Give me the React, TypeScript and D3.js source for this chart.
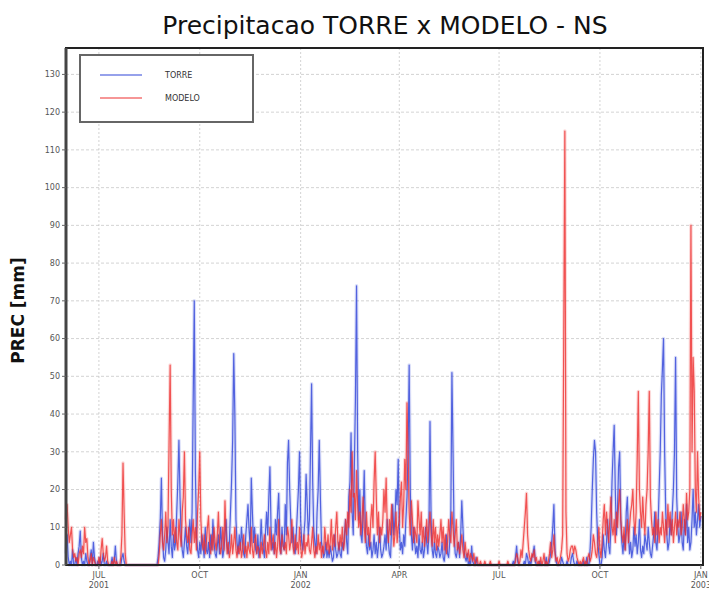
import React from 'react';
import * as d3 from 'd3';

// daily precipitation (mm), starting 2001-06-01
const startDate = new Date(2001, 5, 1);
const endDate = new Date(2003, 0, 3);

const torre = [
  3, 8, 2, 0, 1, 0, 4, 0, 0, 2, 0, 3, 5, 9, 2, 0, 1, 0, 3, 1,
  0, 0, 2, 4, 0, 6, 2, 0, 0, 1, 0, 2, 0, 1, 3, 0, 0, 1, 0, 0,
  0, 0, 2, 0, 1, 5, 1, 0, 0, 0, 0, 2, 3, 1, 0, 0, 0, 0, 0, 0,
  0, 0, 0, 0, 0, 0, 0, 0, 0, 0, 0, 0, 0, 0, 0, 0, 0, 0, 0, 0,
  0, 0, 0, 0, 2, 6, 12, 23, 8, 2, 1, 4, 10, 6, 3, 12, 5, 2, 8, 4,
  6, 14, 22, 33, 18, 8, 4, 2, 6, 10, 5, 3, 8, 12, 6, 14, 43, 70, 25, 8,
  4, 2, 6, 3, 8, 5, 2, 10, 4, 3, 6, 2, 8, 4, 12, 6, 3, 2, 5, 8,
  3, 10, 6, 2, 4, 8, 12, 5, 3, 6, 14, 22, 33, 56, 40, 12, 6, 3, 8, 4,
  10, 6, 3, 2, 8, 12, 16, 9, 5, 23, 14, 6, 10, 4, 3, 8, 2, 5, 12, 6,
  4, 2, 9, 14, 8, 18, 26, 10, 4, 6, 3, 12, 8, 14, 19, 7, 3, 10, 5, 4,
  16, 8, 27, 33, 20, 12, 6, 10, 4, 3, 8, 14, 20, 30, 12, 6, 4, 8, 12, 24,
  16, 8, 12, 30, 48, 22, 9, 6, 3, 14, 20, 33, 18, 6, 4, 2, 3, 6, 2, 4,
  2, 5, 3, 1, 2, 8, 4, 2, 3, 6, 3, 2, 6, 4, 8, 12, 6, 3, 18, 22,
  35, 14, 8, 26, 44, 74, 30, 12, 20, 8, 6, 14, 25, 10, 5, 3, 8, 4, 6, 2,
  4, 8, 3, 6, 2, 5, 10, 4, 2, 3, 5, 8, 4, 12, 6, 3, 2, 10, 16, 8,
  12, 20, 16, 28, 10, 4, 6, 3, 8, 5, 12, 18, 30, 53, 20, 8, 4, 10, 6, 3,
  5, 2, 8, 4, 3, 6, 2, 4, 10, 6, 3, 8, 38, 12, 4, 2, 6, 3, 2, 5,
  4, 2, 3, 6, 2, 1, 4, 8, 3, 2, 6, 14, 51, 30, 8, 3, 2, 4, 6, 2,
  8, 17, 10, 4, 2, 1, 3, 0, 1, 0, 5, 1, 0, 0, 2, 0, 0, 0, 0, 0,
  0, 0, 0, 0, 0, 0, 0, 0, 0, 0, 0, 0, 0, 0, 0, 0, 0, 0, 0, 0,
  0, 0, 0, 0, 0, 0, 0, 0, 1, 0, 2, 5, 1, 0, 0, 0, 0, 0, 1, 0,
  3, 2, 0, 1, 0, 2, 3, 5, 1, 0, 0, 0, 1, 0, 0, 0, 0, 0, 2, 0,
  0, 1, 3, 6, 10, 16, 4, 1, 0, 0, 0, 0, 2, 1, 0, 0, 0, 1, 0, 0,
  0, 2, 3, 1, 0, 0, 1, 0, 0, 0, 0, 0, 1, 0, 0, 2, 0, 0, 4, 10,
  20, 28, 33, 30, 14, 6, 3, 0, 0, 2, 8, 4, 2, 6, 12, 5, 3, 10, 22, 30,
  37, 20, 8, 14, 26, 30, 12, 6, 3, 8, 4, 14, 18, 8, 3, 6, 2, 4, 10, 5,
  8, 3, 6, 12, 4, 2, 5, 3, 8, 6, 4, 10, 6, 3, 2, 5, 8, 14, 6, 4,
  10, 20, 30, 45, 52, 60, 30, 14, 8, 4, 6, 12, 8, 14, 20, 30, 55, 18, 10, 6,
  8, 14, 6, 4, 12, 8, 16, 6, 10, 4, 6, 12, 20, 10, 14, 8, 12, 16, 10, 13,
];

const modelo = [
  12, 16, 10, 6, 8, 10, 4, 2, 3, 1, 2, 0, 3, 4, 2, 5, 3, 10, 6, 7,
  2, 0, 1, 3, 0, 2, 1, 0, 0, 0, 2, 0, 4, 7, 3, 1, 2, 5, 1, 0,
  0, 0, 1, 0, 2, 0, 1, 0, 0, 0, 2, 8, 27, 14, 3, 0, 0, 0, 0, 0,
  0, 0, 0, 0, 0, 0, 0, 0, 0, 0, 0, 0, 0, 0, 0, 0, 0, 0, 0, 0,
  0, 0, 0, 0, 0, 3, 8, 12, 6, 4, 8, 14, 6, 10, 32, 53, 20, 8, 12, 6,
  10, 6, 4, 12, 8, 5, 14, 18, 30, 12, 8, 6, 10, 4, 3, 8, 12, 6, 10, 4,
  14, 20, 30, 12, 6, 4, 8, 3, 6, 10, 13, 5, 3, 8, 4, 10, 6, 4, 8, 14,
  6, 3, 5, 10, 4, 17, 8, 3, 6, 2, 4, 8, 3, 6, 10, 4, 2, 5, 3, 6,
  2, 4, 8, 3, 5, 2, 6, 4, 3, 10, 4, 2, 6, 8, 3, 5, 4, 2, 6, 3,
  5, 8, 4, 2, 6, 3, 10, 4, 6, 8, 3, 6, 2, 5, 12, 4, 3, 8, 5, 4,
  6, 3, 10, 8, 4, 6, 12, 5, 3, 8, 4, 6, 3, 10, 5, 2, 4, 8, 3, 6,
  5, 8, 4, 3, 6, 10, 4, 2, 5, 3, 8, 4, 6, 2, 5, 3, 10, 6, 4, 8,
  3, 6, 12, 4, 8, 5, 10, 14, 6, 4, 8, 5, 10, 4, 6, 12, 8, 14, 10, 20,
  14, 30, 18, 19, 12, 25, 16, 10, 14, 8, 12, 18, 10, 6, 14, 8, 10, 5, 12, 16,
  10, 22, 30, 18, 8, 14, 6, 10, 8, 12, 20, 14, 23, 10, 6, 12, 8, 16, 10, 5,
  8, 14, 6, 10, 12, 18, 22, 10, 16, 28, 20, 43, 30, 14, 8, 17, 12, 6, 10, 8,
  6, 17, 12, 8, 14, 6, 10, 5, 8, 12, 6, 10, 14, 8, 5, 12, 6, 10, 4, 8,
  5, 8, 12, 6, 10, 4, 8, 3, 6, 12, 8, 6, 14, 10, 5, 8, 12, 4, 6, 3,
  5, 8, 4, 2, 6, 3, 2, 4, 1, 3, 2, 1, 3, 0, 1, 2, 0, 0, 1, 0,
  0, 0, 1, 0, 0, 0, 0, 1, 0, 0, 0, 0, 0, 0, 0, 1, 0, 0, 0, 0,
  0, 0, 0, 1, 0, 0, 0, 0, 0, 0, 1, 3, 2, 0, 1, 4, 2, 6, 10, 14,
  19, 8, 4, 2, 1, 3, 2, 4, 1, 2, 0, 1, 0, 2, 0, 1, 3, 0, 1, 0,
  1, 3, 6, 2, 4, 8, 3, 1, 2, 0, 1, 2, 4, 8, 61, 115, 14, 3, 1, 2,
  4, 5, 5, 3, 5, 4, 2, 1, 0, 1, 0, 1, 2, 0, 1, 0, 2, 3, 1, 2,
  4, 8, 6, 3, 2, 5, 10, 4, 2, 6, 12, 16, 8, 14, 10, 6, 12, 18, 10, 8,
  12, 6, 14, 10, 16, 20, 12, 8, 6, 10, 4, 8, 12, 6, 10, 14, 16, 20, 12, 8,
  14, 28, 46, 20, 14, 10, 18, 12, 8, 16, 20, 30, 46, 18, 12, 8, 10, 6, 14, 8,
  12, 6, 10, 8, 14, 10, 6, 12, 8, 16, 10, 14, 8, 12, 6, 10, 14, 8, 12, 10,
  14, 8, 10, 16, 12, 8, 19, 12, 14, 20, 90, 30, 55, 46, 20, 14, 30, 18, 12, 14,
];

const yTicks = d3.range(0, 131, 10);
const xTicks = [
  { date: new Date(2001, 6, 1), label: ['JUL', '2001'] },
  { date: new Date(2001, 9, 1), label: ['OCT'] },
  { date: new Date(2002, 0, 1), label: ['JAN', '2002'] },
  { date: new Date(2002, 3, 1), label: ['APR'] },
  { date: new Date(2002, 6, 1), label: ['JUL'] },
  { date: new Date(2002, 9, 1), label: ['OCT'] },
  { date: new Date(2003, 0, 1), label: ['JAN', '2003'] },
];

const series = [
  { name: 'TORRE', values: torre, color: '#2f44d8' },
  { name: 'MODELO', values: modelo, color: '#ee2f2f' },
];

export default function App() {
  const width = 709;
  const height = 594;
  const margin = { top: 48, right: 6, bottom: 29, left: 66 };

  const x = d3.scaleTime()
    .domain([startDate, endDate])
    .range([margin.left, width - margin.right]);

  const y = d3.scaleLinear()
    .domain([0, 137])
    .range([height - margin.bottom, margin.top]);

  const line = d3.line<number>()
    .x((_, i) => x(d3.timeDay.offset(startDate, i)))
    .y((d) => y(d));

  const font = "'DejaVu Sans', sans-serif";

  return (
    <svg width={width} height={height} style={{ position: 'absolute', left: 0, top: 0, background: '#fff' }}>
      <text x={385} y={34} textAnchor="middle" fontFamily={font} fontSize={25} fill="#111">
        Precipitacao TORRE x MODELO - NS
      </text>

      {/* grid */}
      {yTicks.filter((t) => t > 0).map((t) => (
        <line key={'gy' + t} x1={margin.left} x2={width - margin.right} y1={y(t)} y2={y(t)}
          stroke="#c8c8c8" strokeWidth={0.8} strokeDasharray="3,2" />
      ))}
      {xTicks.map((t, i) => (
        <line key={'gx' + i} x1={x(t.date)} x2={x(t.date)} y1={margin.top} y2={height - margin.bottom}
          stroke="#c8c8c8" strokeWidth={0.8} strokeDasharray="2,2" />
      ))}

      {/* data: soft halo then the line itself */}
      {series.map((s) => (
        <path key={s.name + 'h'} d={line(s.values) || ''} fill="none" stroke={s.color}
          strokeWidth={3.5} strokeOpacity={0.18} strokeLinejoin="round" />
      ))}
      {series.map((s) => (
        <path key={s.name} d={line(s.values) || ''} fill="none" stroke={s.color}
          strokeWidth={1.2} strokeOpacity={0.8} strokeLinejoin="round" />
      ))}

      {/* frame */}
      <rect x={margin.left} y={margin.top} width={width - margin.left - margin.right}
        height={height - margin.top - margin.bottom} fill="none" stroke="#222" strokeWidth={2} />
      <line x1={margin.left} x2={margin.left} y1={margin.top} y2={height - margin.bottom}
        stroke="#444" strokeWidth={3} />

      {/* y axis */}
      {yTicks.map((t) => (
        <g key={'yt' + t} transform={`translate(0,${y(t)})`}>
          <line x1={margin.left - 4} x2={margin.left} stroke="#666" strokeWidth={1} />
          <text x={margin.left - 6} dy="0.35em" textAnchor="end" fontFamily={font} fontSize={8} fill="#555">
            {t}
          </text>
        </g>
      ))}
      <text transform={`translate(24,${(margin.top + height - margin.bottom) / 2 + 4}) rotate(-90)`}
        textAnchor="middle" fontFamily={font} fontSize={17} fontWeight="bold" fill="#111">
        PREC [mm]
      </text>

      {/* x axis */}
      {xTicks.map((t, i) => (
        <g key={'xt' + i} transform={`translate(${x(t.date)},${height - margin.bottom})`}>
          <line y1={0} y2={4} stroke="#666" strokeWidth={1} />
          {t.label.map((l, j) => (
            <text key={j} y={13 + j * 10} textAnchor="middle" fontFamily={font} fontSize={8} fill="#555">
              {l}
            </text>
          ))}
        </g>
      ))}

      {/* legend */}
      <rect x={80} y={55} width={173} height={67} fill="#fff" stroke="#666" strokeWidth={2} />
      {series.map((s, i) => (
        <g key={'lg' + s.name} transform={`translate(0,${75 + i * 23})`}>
          <line x1={100} x2={142} stroke={s.color} strokeWidth={1.2} />
          <text x={165} y={3} fontFamily={font} fontSize={8} fill="#333">{s.name}</text>
        </g>
      ))}
    </svg>
  );
}
